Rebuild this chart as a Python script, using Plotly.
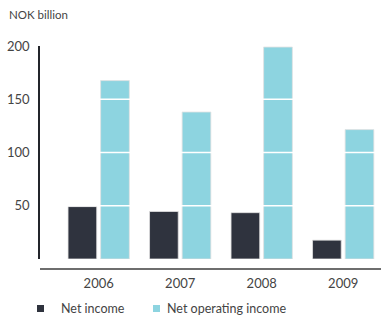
import plotly.graph_objects as go

years = ["2006", "2007", "2008", "2009"]
net_income = [49.2, 44.6, 43.5, 17.7]
net_operating_income = [167.5, 138.0, 199.0, 121.5]
y_ticks = [50, 100, 150, 200]
series_names = ["Net income", "Net operating income"]
colors = ["#2f333e", "#8dd4e0"]

fig = go.Figure()
for name, vals, col in zip(series_names, [net_income, net_operating_income], colors):
    fig.add_trace(go.Bar(
        x=years, y=vals, name=name,
        marker=dict(color=col, line=dict(color="rgba(225,225,225,0.8)", width=1)),
        showlegend=False,
    ))

font_family = "Lato, 'Open Sans', sans-serif"
fig.update_layout(
    width=381, height=318,
    margin=dict(l=40, r=0, t=46, b=59, autoexpand=False),
    paper_bgcolor="white", plot_bgcolor="white",
    barmode="group", bargap=0.2, bargroupgap=0.12,
    font=dict(family=font_family, color="#444444", size=13),
    xaxis=dict(
        type="category", range=[-0.72, 3.464], automargin=False,
        showline=False, showgrid=False, zeroline=False,
        ticks="", ticklabelstandoff=15,
        tickfont=dict(size=13, color="#444444"),
    ),
    yaxis=dict(
        range=[0, 200], tickvals=y_ticks, ticktext=[str(v) for v in y_ticks],
        automargin=False,
        showline=True, linecolor="#23252b", linewidth=1.5,
        showgrid=False, zeroline=False, ticks="", ticklabelstandoff=6,
        tickfont=dict(size=13, color="#444444"),
    ),
)

# white grid lines drawn over the bars
for v in y_ticks[:-1]:
    fig.add_shape(type="line", xref="paper", yref="y", x0=0, x1=1, y0=v, y1=v,
                  line=dict(color="white", width=1.5), layer="above")

# detached x-axis baseline
fig.add_shape(type="line", xref="paper", yref="paper", x0=0, x1=1, y0=-0.047, y1=-0.047,
              line=dict(color="#6e6e6e", width=2), layer="above")

# axis title
fig.add_annotation(text="NOK billion", xref="paper", yref="paper", x=-33/341, y=1 + 32/213,
                   xanchor="left", yanchor="middle", showarrow=False,
                   font=dict(size=11.5, color="#444444"))

# manual legend
legend_pos = [(37, 59), (153, 165)]
for (sx, tx), name, col in zip(legend_pos, series_names, colors):
    fig.add_shape(type="rect", xref="paper", yref="paper",
                  x0=(sx - 40) / 341, x1=(sx - 40 + 7) / 341,
                  y0=(259 - 312) / 213, y1=(259 - 305) / 213,
                  fillcolor=col, line=dict(width=0))
    fig.add_annotation(text=name, xref="paper", yref="paper", x=(tx - 40) / 341, y=(259 - 308.5) / 213,
                       xanchor="left", yanchor="middle", showarrow=False,
                       font=dict(size=12.5, color="#444444"))

fig.write_html("out.html", config={"displayModeBar": False},
               post_script="document.body.style.margin='0';document.body.style.overflow='hidden';")
